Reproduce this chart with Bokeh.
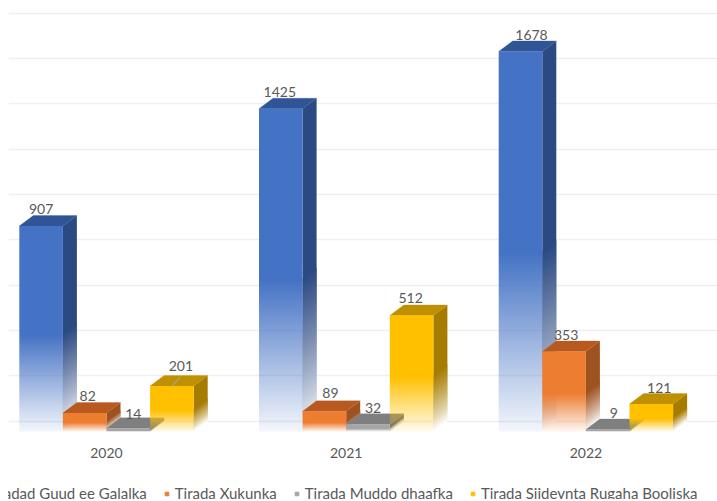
from bokeh.plotting import figure
from bokeh.layouts import column
from bokeh.models import ColumnDataSource, FixedTicker, Grid, Legend, LegendItem
from bokeh.core.properties import value
from bokeh.embed import file_html
from bokeh.resources import INLINE

years = ["2020", "2021", "2022"]
series_names = ["Tiradad Guud ee Galalka", "Tirada Xukunka", "Tirada Muddo dhaafka", "Tirada Siideynta Rugaha Booliska"]
total_cases = [907, 1425, 1678]
verdicts = [82, 89, 353]
overdue = [14, 32, 9]
police_release = [201, 512, 121]
grid_values = [0, 200, 400, 600, 800, 1000, 1200, 1400, 1600, 1800]

front_colors = ["#4472C4", "#ED7D31", "#A5A5A5", "#FFC000"]
top_colors = ["#2F5597", "#B85A1F", "#7F7F7F", "#BF9000"]
side_colors = ["#2C4A82", "#9E5220", "#6E6E6E", "#A67C00"]
# nudges of the data labels, px, [series][year]
label_dx = [[-7, -8, 4], [-4, -1, -5], [-2, -2, -1], [2, -8, 1]]
label_dy = [[2, 1, 1], [1, 3, 1], [-1, 1, 1], [4, 2, 1]]

FONT = "Lato"
TEXT = "#595959"
PX_PER_X = 239.7       # pixels per year
PX_PER_V = 0.2265      # pixels per case
BAR = 43.6 / PX_PER_X  # width of a bar, in years
DX = 14 / PX_PER_X     # depth of a bar
DV = 10.5 / PX_PER_V
FADE = 0.47            # lower share of each bar that fades
STRIP = 1.0 / PX_PER_V # one pixel row

W, H, FRAME_H, LEGEND_H = 709, 462, 440, 39
p = figure(
    width=W, height=H, frame_height=FRAME_H, output_backend="svg", toolbar_location=None,
    x_range=((8 - 106) / PX_PER_X, (717 - 106) / PX_PER_X),
    y_range=((431 - FRAME_H) / PX_PER_V, 431 / PX_PER_V),
    y_axis_location=None, min_border=0,
    margin=(0, 0, 0, 8), outline_line_color=None, background_fill_color="white",
)
p.xgrid.visible = False
p.ygrid.visible = False
grid = Grid(dimension=1, ticker=FixedTicker(ticks=[v + DV for v in grid_values]),
            grid_line_color="#EFEFEF", grid_line_width=1.6,
            bounds=((10 - 106) / PX_PER_X, (717 - 106) / PX_PER_X))
p.add_layout(grid)

ax = p.xaxis[0]
ax.ticker = FixedTicker(ticks=[0, 1, 2])
ax.major_label_overrides = {i: y for i, y in enumerate(years)}
ax.axis_line_color = None
ax.major_tick_line_color = None
ax.minor_tick_line_color = None
ax.major_label_standoff = 1
ax.major_label_text_font = FONT
ax.major_label_text_font_size = "14px"
ax.major_label_text_color = TEXT

all_series = [total_cases, verdicts, overdue, police_release]


def mix(hex_color, a):
    c = [int(hex_color[i:i + 2], 16) for i in (1, 3, 5)]
    return "#%02x%02x%02x" % tuple(round(255 + (x - 255) * a) for x in c)


def strips(v):
    """Pixel-row bands of a bar, bottom to top: (low, high, share of the ramp)."""
    n = max(1, int(round(v * FADE / STRIP)))
    out = [(0.0, 0.5 * STRIP, 0.5 / n)]
    out += [((k + 0.5) * STRIP, (k + 1.5) * STRIP, (k + 1) / n) for k in range(n)]
    out.append(((n + 0.5) * STRIP, v, 1.0))
    return out


for yi in range(len(years)):
    for si, vals in enumerate(all_series):
        v = vals[yi]
        x0 = yi - 2 * BAR + si * BAR
        x1 = x0 + BAR
        bands = strips(v)
        # side face
        side = dict(xs=[], ys=[], c=[])
        for lo, hi, t in reversed(bands):
            top_extra = 0 if hi == v else STRIP
            side["xs"].append([x1, x1 + DX, x1 + DX, x1])
            side["ys"].append([lo, lo + DV, hi + DV + top_extra, hi + top_extra])
            side["c"].append(mix(side_colors[si], t ** 0.8))
        p.patches("xs", "ys", source=ColumnDataSource(side), fill_color="c", line_color=None)
        # top face
        p.patch([x0, x1, x1 + DX, x0 + DX], [v, v, v + DV, v + DV],
                fill_color=top_colors[si], line_color=top_colors[si], line_width=0.3)
        # front face
        front = dict(l=[b[0] for b in bands], h=[b[1] for b in bands],
                     a=[0.06 + 0.94 * b[2] for b in bands],
                     x0=[x0] * len(bands), x1=[x1] * len(bands))
        p.quad(left="x0", right="x1", bottom="l", top="h", source=ColumnDataSource(front),
               fill_color=front_colors[si], fill_alpha="a", line_color=None)

# leader line of the 201 label
p.segment([1.5 * BAR], [police_release[0] - 2], [1.5 * BAR + 8 / PX_PER_X], [police_release[0] + 38],
          line_color="#A6A6A6", line_width=1.2)

# data labels
lab = dict(x=[], y=[], t=[], dx=[], dy=[])
for yi in range(len(years)):
    for si, vals in enumerate(all_series):
        lab["x"].append(yi - 2 * BAR + (si + 0.5) * BAR + DX / 2)
        lab["y"].append(vals[yi] + DV)
        lab["t"].append(str(vals[yi]))
        lab["dx"].append(label_dx[si][yi])
        lab["dy"].append(-label_dy[si][yi])
p.text("x", "y", text="t", source=ColumnDataSource(lab), x_offset="dx", y_offset="dy",
       text_align="center", text_baseline="bottom", text_font=value(FONT),
       text_font_size="14px", text_color=TEXT)

# legend, in a strip of its own under the chart
q = figure(width=W, height=LEGEND_H, output_backend="svg", toolbar_location=None,
           x_range=(0, 1), y_range=(0, 1), x_axis_location=None, y_axis_location=None,
           min_border=0, margin=(0, 0, 0, 8), outline_line_color=None)
q.xgrid.visible = False
q.ygrid.visible = False
items = []
for name, color in zip(series_names, front_colors):
    r = q.scatter([-5], [-5], marker="square", size=9, color=color)
    items.append(LegendItem(label=name, renderers=[r]))
legend = Legend(items=items, orientation="horizontal", location=(-35, -3),
                border_line_color=None, background_fill_alpha=0, margin=0, padding=0,
                spacing=15, glyph_width=9, glyph_height=9, label_standoff=4,
                label_text_font=FONT, label_text_font_size="15px", label_text_color=TEXT)
q.add_layout(legend)

open("out.html", "w").write(file_html(column(p, q, spacing=0), INLINE))
